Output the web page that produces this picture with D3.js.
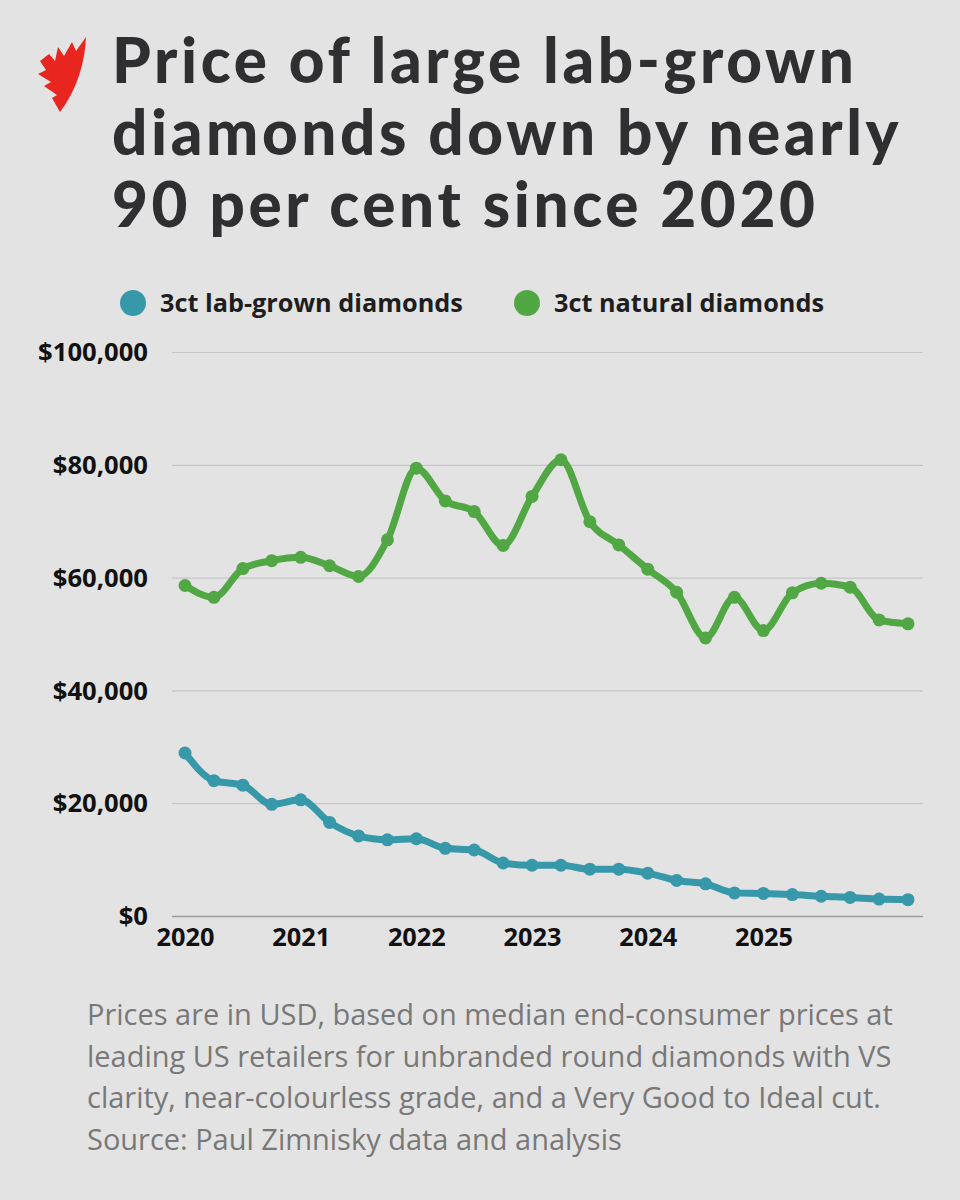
<!DOCTYPE html>
<html>
<head>
<meta charset="utf-8">
<script src="https://cdn.jsdelivr.net/npm/d3@7"></script>
<style>
  body { margin: 0; background: #e4e3e3; }
  svg { display: block; font-family: 'Open Sans', sans-serif; }
</style>
</head>
<body>
<div id="chart"></div>
<script>
// quarterly data
let quarters = [
  '2020-Q1', '2020-Q2', '2020-Q3', '2020-Q4',
  '2021-Q1', '2021-Q2', '2021-Q3', '2021-Q4',
  '2022-Q1', '2022-Q2', '2022-Q3', '2022-Q4',
  '2023-Q1', '2023-Q2', '2023-Q3', '2023-Q4',
  '2024-Q1', '2024-Q2', '2024-Q3', '2024-Q4',
  '2025-Q1', '2025-Q2', '2025-Q3', '2025-Q4',
  '2026-Q1', '2026-Q2'
]
let labGrown = [
  28900, 24000, 23200, 19800, 20600, 16600, 14200, 13500,
  13700, 12000, 11700, 9400, 9000, 9000, 8300, 8300,
  7600, 6300, 5700, 4100, 4000, 3800, 3500, 3300,
  3000, 2900
]
let natural = [
  58600, 56500, 61600, 63000, 63600, 62100, 60200, 66700,
  79400, 73600, 71700, 65700, 74400, 80900, 69900, 65800,
  61500, 57400, 49300, 56500, 50600, 57300, 59000, 58300,
  52500, 51800
]
let yearTicks = [2020, 2021, 2022, 2023, 2024, 2025]
let priceTicks = [0, 20000, 40000, 60000, 80000, 100000]

let seriesNames = ['3ct lab-grown diamonds', '3ct natural diamonds']
let seriesColors = ['#3698a9', '#52a745']

let titleLines = [
  'Price of large lab-grown',
  'diamonds down by nearly',
  '90 per cent since 2020'
]
let noteLines = [
  'Prices are in USD, based on median end-consumer prices at',
  'leading US retailers for unbranded round diamonds with VS',
  'clarity, near-colourless grade, and a Very Good to Ideal cut.',
  'Source: Paul Zimnisky data and analysis'
]

let width = 960
let height = 1200

let svg = d3
  .select('#chart')
  .append('svg')
  .attr('width', width)
  .attr('height', height)

svg
  .append('rect')
  .attr('width', width)
  .attr('height', height)
  .attr('fill', '#e4e3e3')

// font size that makes the first text of a selection as wide as the reference
function fittedSize(sel, size, target) {
  let w = sel.node().getComputedTextLength()
  return size * target / w
}

// logo
svg
  .append('path')
  .attr('d', 'M86,37 C85,62 77,90 60,112 L52,98 L57,95 L44,86 L51,82 L38,74 L46,70 L40,61 L49,54 L55,61 L58,47 L64,56 L72,42 L76,51 Z')
  .attr('fill', '#e8261f')

// title
let title = svg
  .selectAll('.title')
  .data(titleLines)
  .enter()
  .append('text')
  .attr('class', 'title')
  .text(d => d)
  .attr('x', 112)
  .attr('y', (d, i) => 83 + i * 72)
  .attr('font-family', 'Lato')
  .attr('font-size', 62)
  .attr('font-weight', 900)
  .attr('fill', '#2f2f31')

let titleW = title.node().getComputedTextLength()
title.attr('letter-spacing', (742 - titleW) / 23)

// legend
let legendX = [133, 527]
let legend = svg
  .selectAll('.legend')
  .data(seriesNames)
  .enter()
  .append('g')
  .attr('class', 'legend')
  .attr('transform', (d, i) => `translate(${legendX[i]},303)`)

legend
  .append('circle')
  .attr('r', 13)
  .attr('fill', (d, i) => seriesColors[i])

legend
  .append('text')
  .text(d => d)
  .attr('x', 27)
  .attr('y', 9)
  .attr('font-size', 23)
  .attr('font-weight', 700)
  .attr('fill', '#1e1e1e')

let legendText = legend.selectAll('text')
legendText.attr('font-size', fittedSize(legendText, 23, 303))

// scales
let xScale = d3.scaleLinear().domain([2020, 2026.25]).range([185, 908])
let yScale = d3.scaleLinear().domain([0, 100000]).range([916, 352])

let toYear = q => +q.slice(0, 4) + (+q.slice(6) - 1) / 4

// gridlines + y labels
let yAxis = d3
  .axisLeft(yScale)
  .tickValues(priceTicks)
  .tickSize(-(923 - 172))
  .tickPadding(24)
  .tickFormat(d => '$' + d3.format(',')(d))

let yG = svg
  .append('g')
  .attr('transform', 'translate(172,0)')
  .call(yAxis)
  .call(g => g.select('.domain').remove())
  .call(g =>
    g
      .selectAll('.tick line')
      .attr('stroke', d => (d === 0 ? '#9a9a9a' : '#c6c6c6'))
      .attr('stroke-width', d => (d === 0 ? 1.5 : 1.2))
  )

let yText = yG.selectAll('.tick text')
  .attr('font-family', 'Open Sans')
  .attr('font-size', 20)
  .attr('font-weight', 700)
  .attr('fill', '#111')
  .attr('dy', '0.34em')
let yLabelSize = fittedSize(yText.filter(d => d === 100000), 20, 110)
yText.attr('font-size', yLabelSize)

// x labels
let xAxis = d3
  .axisBottom(xScale)
  .tickValues(yearTicks)
  .tickSize(0)
  .tickPadding(12)
  .tickFormat(d3.format('d'))

let xG = svg
  .append('g')
  .attr('transform', 'translate(0,916)')
  .call(xAxis)
  .call(g => g.select('.domain').remove())

let xText = xG.selectAll('.tick text')
  .attr('font-family', 'Open Sans')
  .attr('font-size', 20)
  .attr('font-weight', 700)
  .attr('fill', '#111')
xText.attr('font-size', fittedSize(xText, 20, 58))

// lines and dots
let series = [labGrown, natural]

let line = d3
  .line()
  .x((d, i) => xScale(toYear(quarters[i])))
  .y(d => yScale(d))
  .curve(d3.curveMonotoneX)

series.forEach((values, s) => {
  svg
    .append('path')
    .datum(values)
    .attr('d', line)
    .attr('fill', 'none')
    .attr('stroke', seriesColors[s])
    .attr('stroke-width', 7)
    .attr('stroke-linejoin', 'round')
    .attr('stroke-linecap', 'round')

  svg
    .selectAll('.dot-' + s)
    .data(values)
    .enter()
    .append('circle')
    .attr('class', 'dot-' + s)
    .attr('cx', (d, i) => xScale(toYear(quarters[i])))
    .attr('cy', d => yScale(d))
    .attr('r', 6.5)
    .attr('fill', seriesColors[s])
})

// footnote
let note = svg
  .selectAll('.note')
  .data(noteLines)
  .enter()
  .append('text')
  .attr('class', 'note')
  .text(d => d)
  .attr('x', 87)
  .attr('y', (d, i) => 1025 + i * 41.5)
  .attr('font-size', 26)
  .attr('fill', '#787878')

note.attr('font-size', fittedSize(note, 26, 806))
</script>
</body>
</html>
